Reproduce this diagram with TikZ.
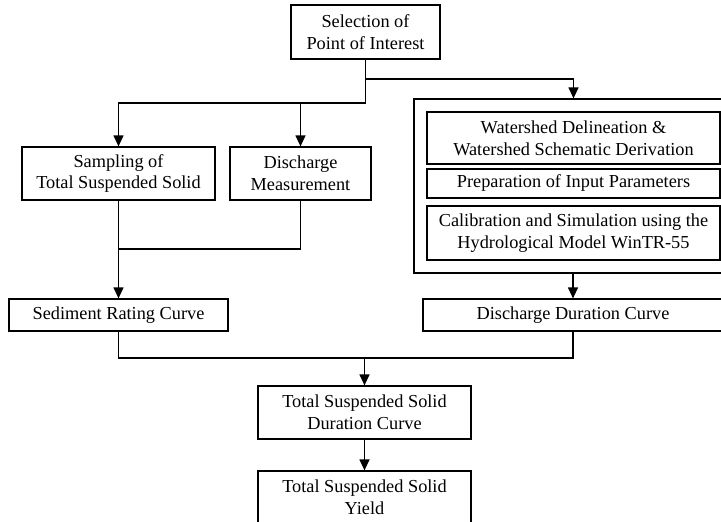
\documentclass[tikz,border=0pt]{standalone}
\usepackage{fontspec}
\setmainfont{Liberation Serif}
\usetikzlibrary{arrows.meta}
\begin{document}
\begin{tikzpicture}[x=1pt,y=-1pt,
  box/.style={draw,line width=1.2pt,rectangle,inner sep=1pt,align=center,
    font=\fontsize{18.3}{21.7}\selectfont},
  conn/.style={line width=1.2pt},
  arr/.style={conn,-{Triangle[length=11pt,width=10pt]}}]
\useasboundingbox (0,0) rectangle (721,522);
% nodes
\node[box,minimum width=149pt,minimum height=54pt] (sel) at (365.5,32) {Selection of\\Point of Interest};
\node[box,minimum width=193pt,minimum height=53pt] (samp) at (118.5,173.5) {Sampling of\\Total Suspended Solid};
\node[box,minimum width=141pt,minimum height=53pt] (dism) at (300.5,173.5) {Discharge\\Measurement};
\node[box,minimum width=219pt,minimum height=32pt] (sed) at (118.5,315) {Sediment Rating Curve};
\node[box,minimum width=319pt,minimum height=174pt] (outer) at (573.5,186) {};
\node[box,minimum width=293pt,minimum height=52pt] (w1) at (573.5,138) {Watershed Delineation \&\\Watershed Schematic Derivation};
\node[box,minimum width=293pt,minimum height=29pt] (w2) at (573.5,183.5) {Preparation of Input Parameters};
\node[box,minimum width=293pt,minimum height=54pt] (w3) at (573.5,233) {Calibration and Simulation using the\\Hydrological Model WinTR-55};
\node[box,minimum width=300pt,minimum height=32pt] (ddc) at (573,315) {Discharge Duration Curve};
\node[box,minimum width=213pt,minimum height=53pt] (tdc) at (364.5,412.5) {Total Suspended Solid\\Duration Curve};
\node[box,minimum width=213pt,minimum height=52pt] (tyd) at (364.5,497) {Total Suspended Solid\\Yield};
% junctions
\coordinate (j1) at (365.5,79);
\coordinate (j2) at (365.5,103);
\coordinate (j3) at (118.5,249);
\coordinate (j4) at (364.5,358);
% connectors
\draw[conn] (sel.south) -- (j2);
\draw[arr] (j1) -| (outer.north);
\draw[arr] (j2) -| (samp.north);
\draw[arr] (dism.north |- j2) -- (dism.north);
\draw[arr] (samp.south) -- (sed.north);
\draw[conn] (dism.south) |- (j3);
\draw[arr] (outer.south -| ddc.north) -- (ddc.north);
\draw[conn] (sed.south) |- (j4) -| (ddc.south);
\draw[arr] (j4) -- (tdc.north);
\draw[arr] (tdc.south) -- (tyd.north);
\end{tikzpicture}
\end{document}
